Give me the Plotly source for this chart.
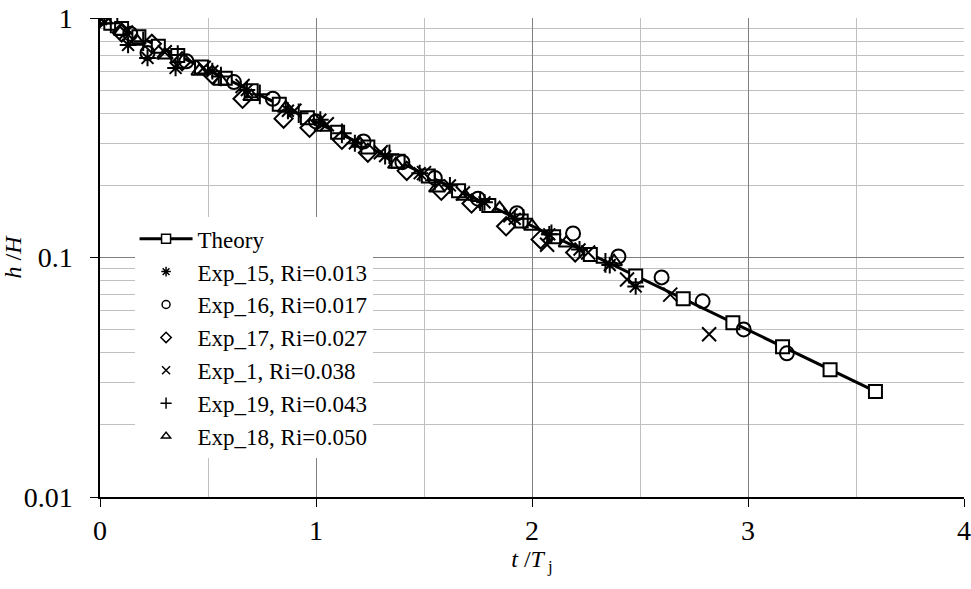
import plotly.graph_objects as go

# ---------------------------------------------------------------------------
# Data (t/Tj, h/H)
# ---------------------------------------------------------------------------
theory_t = [0, 0.05, 0.10, 0.18, 0.27, 0.36, 0.47, 0.58, 0.70, 0.83, 0.96, 1.10,
            1.24, 1.38, 1.52, 1.66, 1.80, 1.95, 2.10, 2.27, 2.48, 2.70, 2.93,
            3.16, 3.38, 3.59]
theory_h = [1.0, 0.951, 0.905, 0.835, 0.763, 0.698, 0.625, 0.560, 0.497, 0.436,
            0.383, 0.333, 0.289, 0.252, 0.219, 0.190, 0.165, 0.142, 0.122,
            0.103, 0.0837, 0.0672, 0.0534, 0.0424, 0.0340, 0.0276]

exp15_t = [0, 0.13, 0.22, 0.35, 0.52, 0.68, 0.87, 1.02, 1.18, 1.32, 1.48, 1.62,
           1.78, 1.92, 2.08, 2.22, 2.36, 2.48]
exp15_h = [1.0, 0.772, 0.681, 0.619, 0.600, 0.500, 0.410, 0.376, 0.300, 0.265,
           0.225, 0.200, 0.170, 0.145, 0.125, 0.108, 0.093, 0.0757]

exp16_t = [0, 0.14, 0.22, 0.40, 0.62, 0.80, 1.00, 1.22, 1.40, 1.55, 1.75, 1.93,
           2.19, 2.40, 2.60, 2.79, 2.98, 3.18]
exp16_h = [1.0, 0.86, 0.715, 0.66, 0.54, 0.46, 0.37, 0.305, 0.25, 0.215, 0.176,
           0.153, 0.126, 0.101, 0.0826, 0.0656, 0.0501, 0.0398]

exp17_t = [0, 0.10, 0.24, 0.38, 0.52, 0.66, 0.85, 0.97, 1.12, 1.24, 1.42, 1.58,
           1.72, 1.88, 2.04, 2.20]
exp17_h = [1.0, 0.87, 0.78, 0.66, 0.58, 0.46, 0.38, 0.348, 0.31, 0.274, 0.23,
           0.19, 0.168, 0.135, 0.119, 0.105]

exp1_t = [0, 0.12, 0.30, 0.48, 0.66, 0.90, 1.05, 1.30, 1.50, 1.68, 1.90, 2.07,
          2.26, 2.44, 2.64, 2.82]
exp1_h = [1.0, 0.87, 0.72, 0.62, 0.52, 0.41, 0.36, 0.275, 0.225, 0.185, 0.150,
          0.113, 0.105, 0.081, 0.070, 0.0478]

exp19_t = [0.05, 0.20, 0.36, 0.56, 0.74, 0.92, 1.12, 1.34, 1.55, 1.76, 1.96,
           2.09, 2.34]
exp19_h = [0.95, 0.80, 0.70, 0.57, 0.48, 0.40, 0.33, 0.27, 0.21, 0.172, 0.145,
           0.125, 0.095]

exp18_t = [0.02, 0.10, 0.17, 0.30, 0.46, 0.56, 0.70, 0.86, 1.03, 1.20, 1.37,
           1.56, 1.69, 1.85, 2.00, 2.16, 2.38]
exp18_h = [0.98, 0.88, 0.80, 0.70, 0.60, 0.545, 0.47, 0.42, 0.35, 0.30, 0.245,
           0.195, 0.18, 0.16, 0.135, 0.115, 0.096]

FONT = "Liberation Serif, Times New Roman, serif"

fig = go.Figure()

fig.add_trace(go.Scatter(
    x=theory_t, y=theory_h, mode="lines+markers", name="Theory",
    line=dict(color="black", width=3),
    marker=dict(symbol="square", size=13, color="white",
                line=dict(color="black", width=2)),
    showlegend=False,
))

exp_series = [
    ("Exp_15, Ri=0.013", exp15_t, exp15_h, "asterisk-open"),
    ("Exp_16, Ri=0.017", exp16_t, exp16_h, "circle-open"),
    ("Exp_17, Ri=0.027", exp17_t, exp17_h, "diamond-open"),
    ("Exp_1, Ri=0.038", exp1_t, exp1_h, "x-thin-open"),
    ("Exp_19, Ri=0.043", exp19_t, exp19_h, "cross-thin-open"),
    ("Exp_18, Ri=0.050", exp18_t, exp18_h, "triangle-up-open"),
]
for name, t, h, sym in exp_series:
    fig.add_trace(go.Scatter(
        x=t, y=h, mode="markers", name=name, showlegend=False,
        marker=dict(symbol=sym, size=14, color="black",
                    line=dict(color="black", width=2)),
    ))

# legend entries with the smaller symbols that the reference key uses
fig.add_trace(go.Scatter(
    x=[None], y=[None], mode="lines+markers", name="Theory",
    line=dict(color="black", width=3),
    marker=dict(symbol="square", size=9, color="white",
                line=dict(color="black", width=1.5)),
))
for name, t, h, sym in exp_series:
    fig.add_trace(go.Scatter(
        x=[None], y=[None], mode="markers", name=name,
        marker=dict(symbol=sym, size=8, color="black",
                    line=dict(color="black", width=1.5)),
    ))

minor_y = [m * 10 ** e for e in (-2, -1) for m in range(2, 10)]

fig.update_layout(
    width=971, height=589,
    margin=dict(l=100, r=7, t=18, b=92),
    paper_bgcolor="white", plot_bgcolor="white",
    font=dict(family=FONT, size=23, color="black"),
    showlegend=True,
    legend=dict(
        x=0.04, y=0.584, xanchor="left", yanchor="top",
        bgcolor="white", borderwidth=0,
        font=dict(family=FONT, size=23, color="black"),
        tracegroupgap=0, itemwidth=53,
    ),
    xaxis=dict(
        range=[0, 4], tickvals=[0, 1, 2, 3, 4],
        showgrid=True, gridcolor="#808080", gridwidth=1,
        minor=dict(tickvals=[0.5, 1.5, 2.5, 3.5], showgrid=True,
                   gridcolor="#c0c0c0", gridwidth=1),
        showline=True, linecolor="black", linewidth=1.5,
        ticks="outside", ticklen=8, tickcolor="black",
        ticklabelstandoff=0, ticklabeloverflow="allow",
        zeroline=False, automargin=False,
        tickfont=dict(family=FONT, size=28),
        title=dict(text="<i>t</i> /<i>T</i><sub> j</sub>",
                   font=dict(family=FONT, size=24), standoff=2),
    ),
    yaxis=dict(
        type="log", range=[-2, 0],
        tickvals=[0.01, 0.1, 1], ticktext=["0.01", "0.1", "1"],
        showgrid=True, gridcolor="#808080", gridwidth=1,
        minor=dict(tickvals=minor_y, showgrid=True,
                   gridcolor="#c0c0c0", gridwidth=1),
        showline=True, linecolor="black", linewidth=1.5,
        ticks="outside", ticklen=8, tickcolor="black",
        ticklabelstandoff=12, ticklabeloverflow="allow",
        zeroline=False, automargin=False,
        tickfont=dict(family=FONT, size=28),
        title=dict(text="<i>h</i> /<i>H</i>",
                   font=dict(family=FONT, size=24), standoff=2),
    ),
)

# drop the browser's default 8px body margin so the figure sits at the corner
fig.write_html("out.html",
               config={"displayModeBar": False},
               post_script="document.body.style.margin = '0';")
